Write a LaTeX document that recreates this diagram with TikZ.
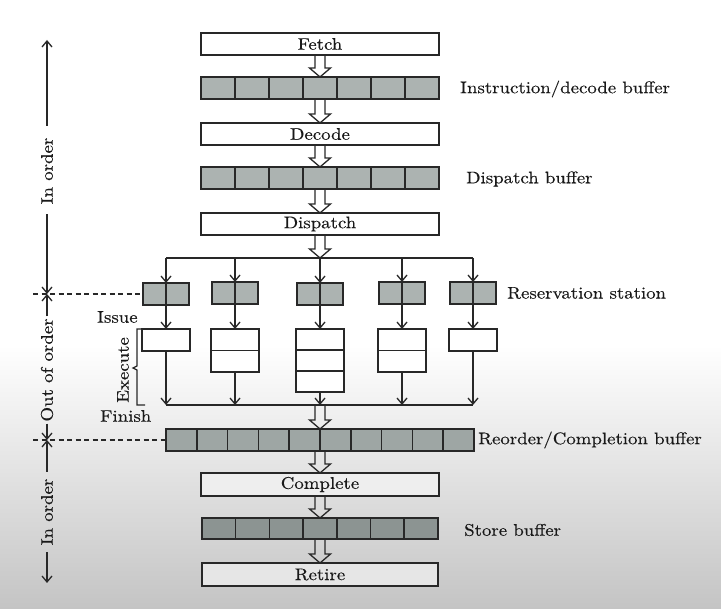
\documentclass[tikz,border=0pt]{standalone}
\usepackage{fontspec}
\setmainfont{lmroman10-regular.otf}[FakeBold=0.3]
\usepackage{graphicx}
\usetikzlibrary{arrows.meta}
\definecolor{linec}{RGB}{40,40,40}
\definecolor{textc}{RGB}{25,25,25}
\definecolor{cellA}{RGB}{172,179,177}
\definecolor{cellB}{RGB}{158,166,164}
\definecolor{cellC}{RGB}{140,148,146}
\definecolor{bgbot}{RGB}{196,196,196}
\definecolor{boxB}{RGB}{238,238,238}
\definecolor{boxC}{RGB}{230,230,230}
\newcommand{\lbl}[1]{\scalebox{1.12}[1]{#1}}
\newcommand{\hollowarr}[2]{\draw[hollowar] ([xshift=-5pt]#1) -- ([xshift=-5pt,yshift=9pt]#2) -- ([xshift=-10.5pt,yshift=9pt]#2) -- (#2) -- ([xshift=10.5pt,yshift=9pt]#2) -- ([xshift=5pt,yshift=9pt]#2) -- ([xshift=5pt]#1);}
\begin{document}
\begin{tikzpicture}[x=1pt,y=-1pt,
  font=\fontsize{16.8}{20}\selectfont,
  lw/.style={line width=1.5pt},
  stage/.style={draw=linec, lw, fill=white, minimum width=238pt, minimum height=22pt, inner sep=0pt, outer sep=0pt, text=textc},
  buf/.style={draw=linec, lw, minimum height=22pt, inner sep=0pt, outer sep=0pt},
  rsbox/.style={buf, fill=cellA, minimum width=46pt},
  eubox/.style={draw=linec, lw, fill=white, minimum width=48pt, inner sep=0pt, outer sep=0pt},
  conn/.style={draw=linec, line width=1.3pt, -{Straight Barb[length=6pt,width=10pt]}},
  hollowar/.style={draw=linec, line width=1.3pt, line join=miter},
  dimar/.style={draw=linec, line width=1.3pt, -{Straight Barb[length=6pt,width=10pt]}},
  dashln/.style={draw=linec, line width=1.3pt, dash pattern=on 5pt off 3.5pt},
  lab/.style={text=textc, inner sep=0pt, anchor=west},
  vlab/.style={text=textc, inner sep=0pt, rotate=90}
]
% background
\useasboundingbox (0,0) rectangle (721,609);
\fill[white] (0,0) rectangle (721,346);
\shade[top color=white, bottom color=bgbot] (0,345) rectangle (721,609);

% in-order front end
\node[stage] (fetch) at (320,44) {\lbl{Fetch}};
\node[buf, fill=cellA, minimum width=238pt] (ibuf) at (320,88) {};
\foreach \i in {1,...,6} \draw[linec, lw] ([xshift=\i*34pt]ibuf.north west) -- ([xshift=\i*34pt]ibuf.south west);
\node[stage] (decode) at (320,134) {\lbl{Decode}};
\node[buf, fill=cellA, minimum width=238pt] (dbuf) at (320,178) {};
\foreach \i in {1,...,6} \draw[linec, lw] ([xshift=\i*34pt]dbuf.north west) -- ([xshift=\i*34pt]dbuf.south west);
\node[stage] (dispatch) at (320,224) {\lbl{Dispatch}};

\node[lab] (libuf) at (460,89) {\lbl{Instruction/decode buffer}};
\node[lab] (ldbuf) at (466,179) {\lbl{Dispatch buffer}};

\hollowarr{fetch.south}{ibuf.north}
\hollowarr{ibuf.south}{decode.north}
\hollowarr{decode.south}{dbuf.north}
\hollowarr{dbuf.south}{dispatch.north}

% branch points
\coordinate (b1) at (166,258);
\coordinate (b2) at (235,258);
\coordinate (b3) at (320,258);
\coordinate (b4) at (402,258);
\coordinate (b5) at (473,258);
\coordinate (m1) at (166,405);
\coordinate (m2) at (235,405);
\coordinate (m3) at (320,405);
\coordinate (m4) at (402,405);
\coordinate (m5) at (473,405);

\hollowarr{dispatch.south}{b3}
\draw[linec, lw] (b1) -- (b5);

% reservation stations
\node[rsbox] (rs1) at (166,294) {};
\node[rsbox] (rs2) at (235,293) {};
\node[rsbox] (rs3) at (320,294) {};
\node[rsbox] (rs4) at (402,293) {};
\node[rsbox] (rs5) at (473,293) {};
\node[lab] (lrs) at (507,293) {\lbl{Reservation station}};

% execution units
\node[eubox, minimum height=22pt] (eu1) at (166,340) {};
\node[eubox, minimum height=43pt] (eu2) at (235,350.5) {};
\draw[linec, lw] (eu2.west) -- (eu2.east);
\node[eubox, minimum height=63pt] (eu3) at (320,360.5) {};
\draw[linec, lw] ([yshift=-21pt]eu3.north west) -- ([yshift=-21pt]eu3.north east);
\draw[linec, lw] ([yshift=21pt]eu3.south west) -- ([yshift=21pt]eu3.south east);
\node[eubox, minimum height=43pt] (eu4) at (402,350.5) {};
\draw[linec, lw] (eu4.west) -- (eu4.east);
\node[eubox, minimum height=22pt] (eu5) at (473,340) {};

% connectors
\foreach \k in {1,...,5} {
  \draw[conn] (b\k) -- (rs\k.north);
  \draw[conn] (rs\k.north) -- (eu\k.north);
  \draw[conn] (eu\k.south) -- (m\k);
}
\draw[linec, lw] (m1) -- (m5);

% reorder buffer
\node[buf, fill=cellB, minimum width=308pt] (rob) at (320,440) {};
\foreach \i in {1,...,9} \draw[linec, lw] ([xshift=\i*30.8pt]rob.north west) -- ([xshift=\i*30.8pt]rob.south west);
\node[lab] (lrob) at (478,440) {\lbl{Reorder/Completion buffer}};
\hollowarr{m3}{rob.north}

% back end
\node[stage, fill=boxB, minimum height=23pt] (complete) at (320,484.5) {\lbl{Complete}};
\node[buf, fill=cellC, minimum width=236pt, minimum height=21pt] (sbuf) at (320,528.5) {};
\foreach \i in {1,...,6} \draw[linec, lw] ([xshift=\i*33.7pt]sbuf.north west) -- ([xshift=\i*33.7pt]sbuf.south west);
\node[stage, fill=boxC, minimum height=23pt, minimum width=236pt] (retire) at (320,574.5) {\lbl{Retire}};
\node[lab] (lsbuf) at (464,530) {\lbl{Store buffer}};

\hollowarr{rob.south}{complete.north}
\hollowarr{complete.south}{sbuf.north}
\hollowarr{sbuf.south}{retire.north}

% left annotations
\coordinate (t1) at (47,40);
\coordinate (t2) at (47,294);
\coordinate (t3) at (47,440);
\coordinate (t4) at (47,583);
\node[vlab] (io1) at (47,171) {\lbl{In order}};
\node[vlab] (oo) at (47,370) {\lbl{Out of order}};
\node[vlab] (io2) at (47,512) {\lbl{In order}};
\draw[dimar, shorten <=12pt] (io1.east) -- (t1);
\draw[dimar, shorten <=10pt] (io1.west) -- (t2);
\draw[dimar, shorten <=2pt] (oo.east) -- (t2);
\draw[dimar, shorten <=2pt] (oo.west) -- (t3);
\draw[dimar, shorten <=7pt] (io2.east) -- (t3);
\draw[dimar, shorten <=7pt] (io2.west) -- (t4);

\coordinate (d2) at (33,294);
\coordinate (d3) at (33,440);
\draw[dashln] (d2) -- (rs1.west);
\draw[dashln] (d3) -- (rob.west);

% issue / execute / finish
\node[lab] (lissue) at (97,317) {\lbl{Issue}};
\node[vlab] (lexec) at (123,370) {\lbl{Execute}};
\node[lab] (lfin) at (100,416) {\lbl{Finish}};
\coordinate (brb) at (145,405);
\draw[linec, line width=1.2pt] (eu1.north west) -- ++(-5,0) -- ++(0,37) -- ++(-4,2) -- ++(4,2) |- (brb);
\end{tikzpicture}
\end{document}
